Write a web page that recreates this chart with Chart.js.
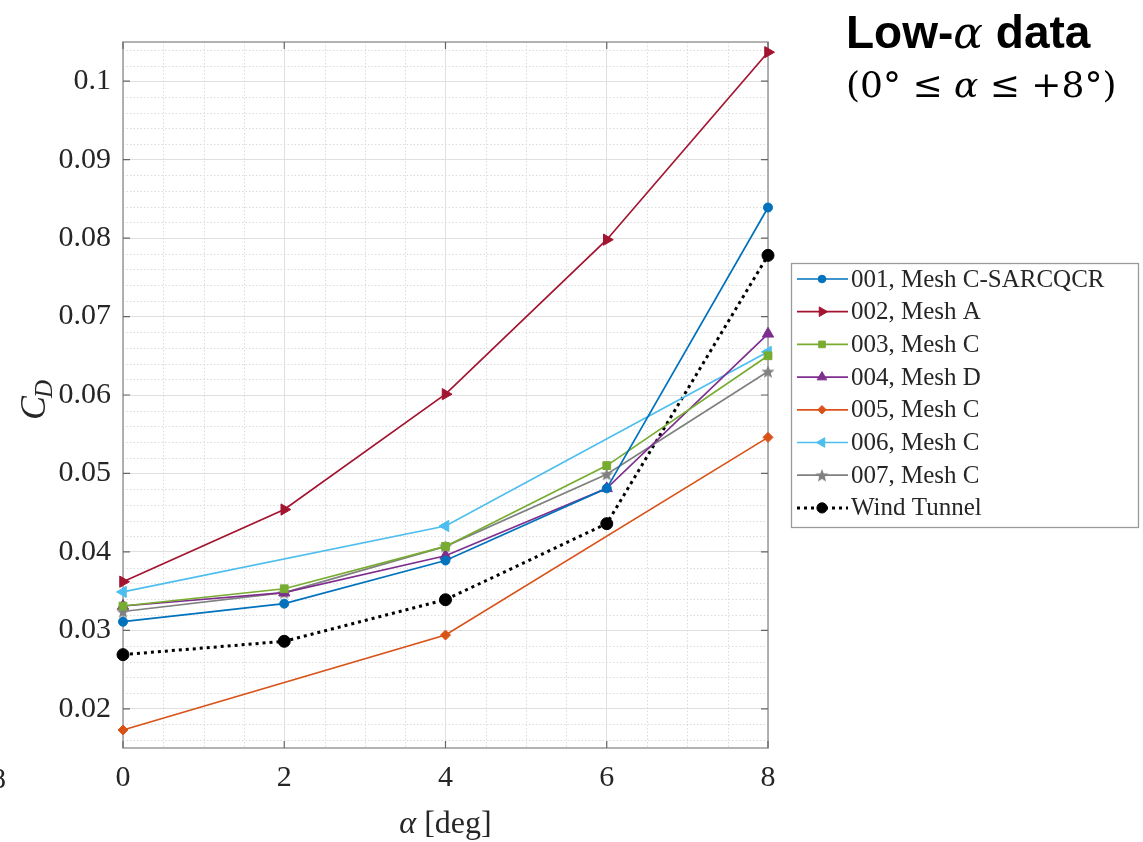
<!DOCTYPE html>
<html>
<head>
<meta charset="utf-8">
<script src="https://cdn.jsdelivr.net/npm/chart.js@4.4.1/dist/chart.umd.min.js"></script>
<style>
html,body{margin:0;padding:0;background:#fff;}
#wrap{width:1143px;height:842px;}
</style>
</head>
<body>
<div id="wrap"><canvas id="c" width="1143" height="842"></canvas></div>
<script>
// ---- data ----
const alphaAll = [0, 2, 4, 6, 8];
const alphaSparse = [0, 4, 8];
const cd001 = [0.0311, 0.0334, 0.0389, 0.0481, 0.0839];
const cd002 = [0.0362, 0.0454, 0.0601, 0.0798, 0.1037];
const cd003 = [0.0331, 0.0353, 0.0407, 0.0510, 0.0650];
const cd004 = [0.0331, 0.0348, 0.0395, 0.0481, 0.0678];
const cd005 = [0.0173, 0.0294, 0.0546];
const cd006 = [0.0349, 0.0433, 0.0655];
const cd007 = [0.0324, 0.0348, 0.0407, 0.0499, 0.0630];
const cdWindTunnel = [0.0269, 0.0286, 0.0339, 0.0436, 0.0778];
const seriesLabels = ['001, Mesh C-SARCQCR', '002, Mesh A', '003, Mesh C', '004, Mesh D',
  '005, Mesh C', '006, Mesh C', '007, Mesh C', 'Wind Tunnel'];
const xTickValues = [0, 2, 4, 6, 8];
const xTickLabels = ['0', '2', '4', '6', '8'];
const yTickValues = [0.02, 0.03, 0.04, 0.05, 0.06, 0.07, 0.08, 0.09, 0.1];
const yTickLabels = ['0.02', '0.03', '0.04', '0.05', '0.06', '0.07', '0.08', '0.09', '0.1'];

const pts = (xs, ys) => xs.map((x, i) => ({x: x, y: ys[i]}));

// filled pentagram marker
function starCanvas(color, r) {
  const s = Math.ceil(r * 2 + 2);
  const cv = document.createElement('canvas');
  cv.width = s; cv.height = s;
  const g = cv.getContext('2d');
  g.beginPath();
  for (let k = 0; k < 10; k++) {
    const rad = k % 2 === 0 ? r : r * 0.42;
    const a = -Math.PI / 2 + k * Math.PI / 5;
    const px = s / 2 + rad * Math.cos(a), py = s / 2 + rad * Math.sin(a) + r * 0.1;
    if (k === 0) g.moveTo(px, py); else g.lineTo(px, py);
  }
  g.closePath();
  g.fillStyle = color; g.fill();
  return cv;
}
const star = starCanvas('#808080', 7);

function ds(label, data, color, style, radius, rot, extra) {
  return Object.assign({
    label: label, data: data, borderColor: color, backgroundColor: color,
    pointBackgroundColor: color, pointBorderColor: color, borderWidth: 1.7,
    pointStyle: style, pointRadius: radius, pointRotation: rot || 0,
    pointBorderWidth: 1, tension: 0, fill: false, clip: false
  }, extra || {});
}

const datasets = [
  ds(seriesLabels[0], pts(alphaAll, cd001), '#0072BD', 'circle', 4.5),
  ds(seriesLabels[1], pts(alphaAll, cd002), '#A2142F', 'triangle', 6.5, 90),
  ds(seriesLabels[2], pts(alphaAll, cd003), '#77AC30', 'rect', 5.5),
  ds(seriesLabels[3], pts(alphaAll, cd004), '#7E2F8E', 'triangle', 6.5),
  ds(seriesLabels[4], pts(alphaSparse, cd005), '#D95319', 'rectRot', 5),
  ds(seriesLabels[5], pts(alphaSparse, cd006), '#4DBEEE', 'triangle', 6.5, -90),
  ds(seriesLabels[6], pts(alphaAll, cd007), '#808080', star, 7),
  ds(seriesLabels[7], pts(alphaAll, cdWindTunnel), '#000000', 'circle', 6,
     0, {borderWidth: 3, borderDash: [3, 4]})
];

const decorPlugin = {
  id: 'decor',
  beforeDatasetsDraw(chart) {
    const ctx = chart.ctx, a = chart.chartArea;
    const xs = chart.scales.x, ys = chart.scales.y;
    ctx.save();
    ctx.strokeStyle = '#dcdcdc';
    ctx.lineWidth = 1;
    ctx.setLineDash([1.5, 2]);
    // minor grid (y every 0.002, x every 0.5)
    for (let k = 8; k <= 52; k++) {
      if (k % 5 === 0) continue;
      const v = k * 0.002;
      if (v <= ys.min || v >= ys.max) continue;
      const py = Math.round(ys.getPixelForValue(v)) + 0.5;
      ctx.beginPath(); ctx.moveTo(a.left, py); ctx.lineTo(a.right, py); ctx.stroke();
    }
    for (let k = 1; k < 16; k++) {
      if (k % 4 === 0) continue;
      const px = Math.round(xs.getPixelForValue(k * 0.5)) + 0.5;
      ctx.beginPath(); ctx.moveTo(px, a.top); ctx.lineTo(px, a.bottom); ctx.stroke();
    }
    ctx.setLineDash([]);
    // box + inward ticks (drawn under the data)
    ctx.strokeStyle = '#9a9a9a';
    ctx.lineWidth = 1.5;
    ctx.strokeRect(a.left, a.top, a.right - a.left, a.bottom - a.top);
    ctx.strokeStyle = '#666';
    ctx.lineWidth = 1.2;
    yTickValues.forEach(v => {
      const py = ys.getPixelForValue(v);
      ctx.beginPath(); ctx.moveTo(a.left, py); ctx.lineTo(a.left + 7, py);
      ctx.moveTo(a.right, py); ctx.lineTo(a.right - 7, py); ctx.stroke();
    });
    xTickValues.forEach(v => {
      const px = xs.getPixelForValue(v);
      ctx.beginPath(); ctx.moveTo(px, a.bottom); ctx.lineTo(px, a.bottom - 7);
      ctx.moveTo(px, a.top); ctx.lineTo(px, a.top + 7); ctx.stroke();
    });
    ctx.restore();
  },
  afterDraw(chart) {
    const ctx = chart.ctx, a = chart.chartArea;
    ctx.save();
    // axis titles
    ctx.fillStyle = '#262626';
    ctx.textBaseline = 'alphabetic';
    ctx.textAlign = 'left';
    ctx.font = 'italic 32px "Liberation Serif"';
    const wA = ctx.measureText('\u03B1').width;
    ctx.font = '32px "Liberation Serif"';
    const wD = ctx.measureText(' [deg]').width;
    let x0 = (a.left + a.right) / 2 - (wA + wD) / 2;
    ctx.font = 'italic 32px "Liberation Serif"';
    ctx.fillText('\u03B1', x0, 833);
    ctx.font = '32px "Liberation Serif"';
    ctx.fillText(' [deg]', x0 + wA, 833);

    ctx.save();
    ctx.translate(45, 420);
    ctx.rotate(-Math.PI / 2);
    ctx.font = 'italic 36px "Liberation Serif"';
    ctx.fillText('C', 0, 0);
    const wC = ctx.measureText('C').width;
    ctx.font = 'italic 25px "Liberation Serif"';
    ctx.fillText('D', wC - 2, 7);
    ctx.restore();

    // legend
    const lx = 791, ly = 263, lw = 347, lh = 264;
    ctx.fillStyle = '#ffffff';
    ctx.fillRect(lx, ly, lw, lh);
    ctx.strokeStyle = '#9a9a9a';
    ctx.lineWidth = 1.3;
    ctx.strokeRect(lx + 0.5, ly + 0.5, lw, lh);
    chart.data.datasets.forEach((d, i) => {
      const cy = 279 + i * 32.7;
      ctx.save();
      ctx.strokeStyle = d.borderColor;
      ctx.lineWidth = d.borderWidth;
      ctx.setLineDash(d.borderDash || []);
      ctx.beginPath(); ctx.moveTo(797, cy); ctx.lineTo(848, cy); ctx.stroke();
      ctx.setLineDash([]);
      ctx.fillStyle = d.pointBackgroundColor;
      ctx.strokeStyle = d.pointBorderColor;
      ctx.lineWidth = 1;
      Chart.helpers.drawPoint(ctx, {
        pointStyle: d.pointStyle, rotation: d.pointRotation,
        radius: d.pointRadius * 0.85, borderWidth: 1
      }, 822, cy);
      ctx.restore();
      ctx.fillStyle = '#262626';
      ctx.font = '25px "Liberation Serif"';
      ctx.textBaseline = 'middle';
      ctx.fillText(d.label, 851, cy + 1);
    });

    // annotation title (top right)
    ctx.fillStyle = '#000';
    ctx.textBaseline = 'alphabetic';
    let tx = 846;
    ctx.font = 'bold 46px "Liberation Sans"';
    ctx.fillText('Low-', tx, 48); tx += ctx.measureText('Low-').width;
    ctx.font = 'italic 44px "DejaVu Serif"';
    ctx.fillText('\u03B1', tx, 48); tx += ctx.measureText('\u03B1').width;
    ctx.font = 'bold 46px "Liberation Sans"';
    ctx.fillText(' data', tx, 48);

    tx = 846;
    const parts = [['(0\u00B0 \u2264 ', 'normal'], ['\u03B1', 'italic'], [' \u2264 +8\u00B0)', 'normal']];
    parts.forEach(p => {
      ctx.font = (p[1] === 'italic' ? 'italic ' : '') + '36px "DejaVu Serif"';
      ctx.fillText(p[0], tx, 97);
      tx += ctx.measureText(p[0]).width;
    });

    // clipped fragment of neighbouring figure at the far left
    ctx.fillStyle = '#262626';
    ctx.font = '30px "Liberation Serif"';
    ctx.fillText('8', -9, 788);
    ctx.restore();
  }
};

new Chart(document.getElementById('c'), {
  type: 'line',
  data: {datasets: datasets},
  options: {
    responsive: false,
    animation: false,
    layout: {padding: {left: 0, top: 42, right: 375, bottom: 0}},
    plugins: {legend: {display: false}, tooltip: {enabled: false}, title: {display: false}},
    scales: {
      x: {
        type: 'linear', min: 0, max: 8,
        afterBuildTicks: s => { s.ticks = xTickValues.map(v => ({value: v})); },
        afterFit: s => { s.height = 94; },
        grid: {color: '#e0e0e0', lineWidth: 1, drawTicks: false},
        border: {display: false},
        ticks: {
          padding: 12, color: '#262626', font: {family: 'Liberation Serif', size: 30},
          maxRotation: 0, callback: (v) => xTickLabels[xTickValues.indexOf(v)]
        }
      },
      y: {
        type: 'linear', min: 0.015, max: 0.105,
        afterBuildTicks: s => { s.ticks = yTickValues.map(v => ({value: v})); },
        afterFit: s => { s.width = 123; },
        grid: {color: '#e0e0e0', lineWidth: 1, drawTicks: false},
        border: {display: false},
        ticks: {
          padding: 12, color: '#262626', font: {family: 'Liberation Serif', size: 30},
          callback: (v) => {
            const i = yTickValues.findIndex(t => Math.abs(t - v) < 1e-9);
            return i >= 0 ? yTickLabels[i] : '';
          }
        }
      }
    }
  },
  plugins: [decorPlugin]
});
</script>
</body>
</html>
